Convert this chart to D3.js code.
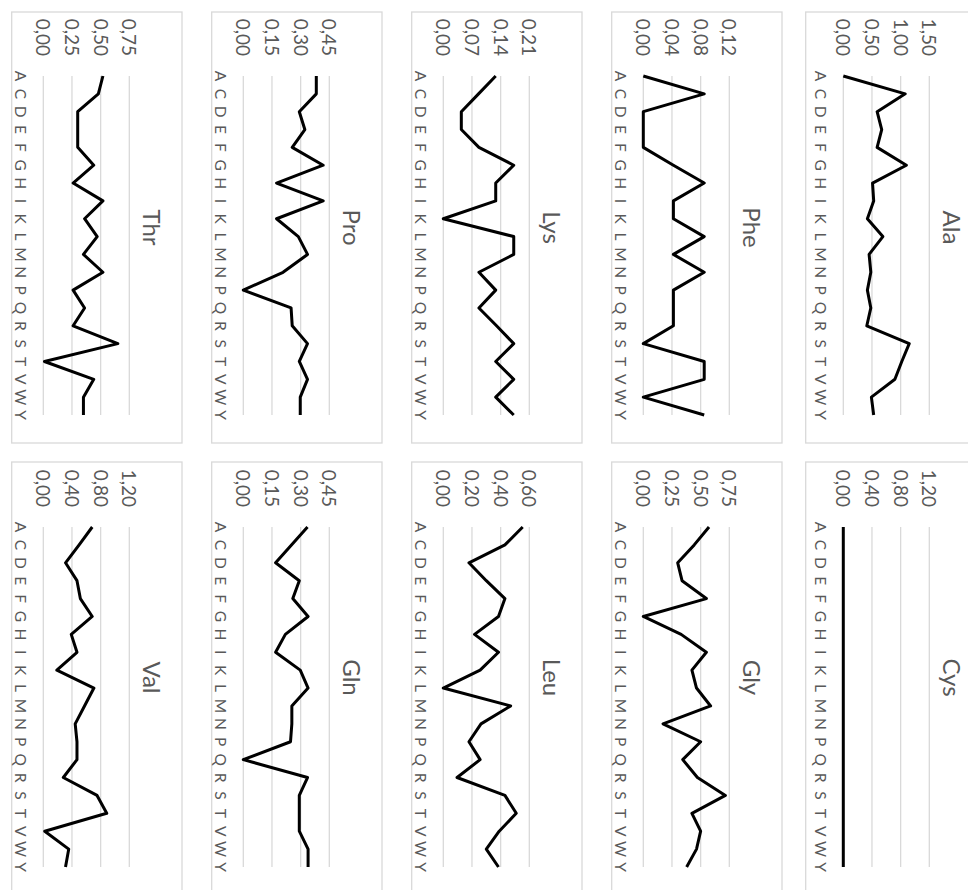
<!DOCTYPE html>
<html>
<head>
<meta charset="utf-8">
<script src="https://cdn.jsdelivr.net/npm/d3@7"></script>
<style>
  body { margin: 0; background: #fff; }
  text { font-family: Lato, "Open Sans", sans-serif; fill: #595959; }
</style>
</head>
<body>
<div id="chart"></div>
<script>
var categories = ["A","C","D","E","F","G","H","I","K","L","M","N","P","Q","R","S","T","V","W","Y"];

var names = ["Ala","Phe","Lys","Pro","Thr","Cys","Gly","Leu","Gln","Val"];

var ala = [0.00,1.08,0.59,0.67,0.59,1.10,0.51,0.53,0.42,0.69,0.45,0.48,0.42,0.48,0.41,1.15,1.02,0.90,0.49,0.53];
var phe = [0,0.085,0,0,0,0.042,0.085,0.042,0.042,0.085,0.042,0.085,0.042,0.042,0.042,0,0.085,0.085,0,0.085];
var lys = [0.128,0.086,0.044,0.044,0.087,0.172,0.128,0.128,0,0.172,0.172,0.087,0.128,0.087,0.13,0.172,0.128,0.172,0.128,0.172];
var pro = [0.382,0.382,0.293,0.322,0.256,0.418,0.174,0.418,0.174,0.288,0.336,0.208,0,0.25,0.256,0.336,0.293,0.336,0.298,0.298];
var thr = [0.52,0.48,0.30,0.30,0.30,0.44,0.26,0.52,0.36,0.47,0.35,0.52,0.26,0.36,0.26,0.65,0.01,0.44,0.35,0.35];
var cys = [0,0,0,0,0,0,0,0,0,0,0,0,0,0,0,0,0,0,0,0];
var gly = [0.573,0.444,0.30,0.338,0.55,0,0.33,0.55,0.424,0.464,0.587,0.172,0.50,0.344,0.472,0.716,0.424,0.50,0.464,0.378];
var leu = [0.554,0.43,0.179,0.30,0.43,0.385,0.218,0.385,0.257,0,0.47,0.263,0.179,0.257,0.096,0.43,0.509,0.39,0.30,0.385];
var gln = [0.336,0.252,0.169,0.293,0.259,0.339,0.22,0.169,0.298,0.339,0.254,0.254,0.247,0,0.336,0.293,0.293,0.293,0.339,0.339];
var val = [0.683,0.50,0.31,0.47,0.517,0.683,0.39,0.47,0.189,0.706,0.575,0.445,0.47,0.47,0.279,0.75,0.885,0.02,0.355,0.31];

var series = [ala, phe, lys, pro, thr, cys, gly, leu, gln, val];
// axis max and tick step per panel
var axisMax = [1.5, 0.12, 0.21, 0.45, 0.75, 1.2, 0.75, 0.6, 0.45, 1.2];
var axisStep = [0.5, 0.04, 0.07, 0.15, 0.25, 0.4, 0.25, 0.2, 0.15, 0.4];

var fmt = d3.formatLocale({decimal: ",", thousands: ".", grouping: [3], currency: ["", ""]}).format(".2f");

function drawPanel(g, i) {
    var col = i < 5 ? 0 : 1;
    var row = i % 5;
    var xr = col == 0 ? [76, 415] : [527, 867];
    var box = col == 0 ? [12, 443] : [462, 893];
    var y0 = 124.7 + 200 * row;
    var boxTop = y0 - 138.7;
    var boxBot = y0 + (row == 0 ? 37.6 : 31.6);

    var x = d3.scalePoint().domain(categories).range(xr).padding(0);
    var y = d3.scaleLinear().domain([0, axisMax[i]]).range([y0, y0 - 86]);
    var ticks = d3.range(0, axisMax[i] + axisStep[i] / 2, axisStep[i]);

    var p = g.append("g");
    p.append("rect")
        .attr("x", box[0])
        .attr("y", boxTop)
        .attr("width", box[1] - box[0])
        .attr("height", boxBot - boxTop)
        .attr("fill", "#fff")
        .attr("stroke", "#d9d9d9")
        .attr("stroke-width", 1.3);

    p.selectAll(".grid").data(ticks).enter().append("line")
        .attr("x1", xr[0])
        .attr("x2", xr[1])
        .attr("y1", function(d) { return y(d); })
        .attr("y2", function(d) { return y(d); })
        .attr("stroke", "#d9d9d9")
        .attr("stroke-width", 1.3);

    p.selectAll(".tick").data(ticks).enter().append("text")
        .attr("x", xr[0] - 20)
        .attr("y", function(d) { return y(d); })
        .attr("dy", "0.36em")
        .attr("text-anchor", "end")
        .style("font-size", "19px")
        .text(function(d) { return fmt(d); });

    p.selectAll(".cat").data(categories).enter().append("text")
        .attr("x", function(d) { return x(d); })
        .attr("y", y0 + 28.5)
        .attr("text-anchor", "middle")
        .style("font-size", "15.5px")
        .text(function(d) { return d; });

    p.append("text")
        .attr("x", (box[0] + box[1]) / 2)
        .attr("y", y0 - 100)
        .attr("text-anchor", "middle")
        .style("font-size", "24px")
        .text(names[i]);

    var line = d3.line()
        .x(function(d, k) { return x(categories[k]); })
        .y(function(d) { return y(d); });
    p.append("path")
        .datum(series[i])
        .attr("d", line)
        .attr("fill", "none")
        .attr("stroke", "#000")
        .attr("stroke-width", 3)
        .attr("stroke-linejoin", "round");
}

function draw() {
    var svg = d3.select("#chart").append("svg")
        .attr("width", 968)
        .attr("height", 890)
        .style("display", "block");
    svg.append("rect").attr("width", 968).attr("height", 890).attr("fill", "#fff");
    // the whole sheet is turned a quarter clockwise
    var g = svg.append("g").attr("transform", "translate(968,0) rotate(90)");
    for (var i = 0; i < names.length; i++) {
        drawPanel(g, i);
    }
}

draw();
</script>
</body>
</html>
